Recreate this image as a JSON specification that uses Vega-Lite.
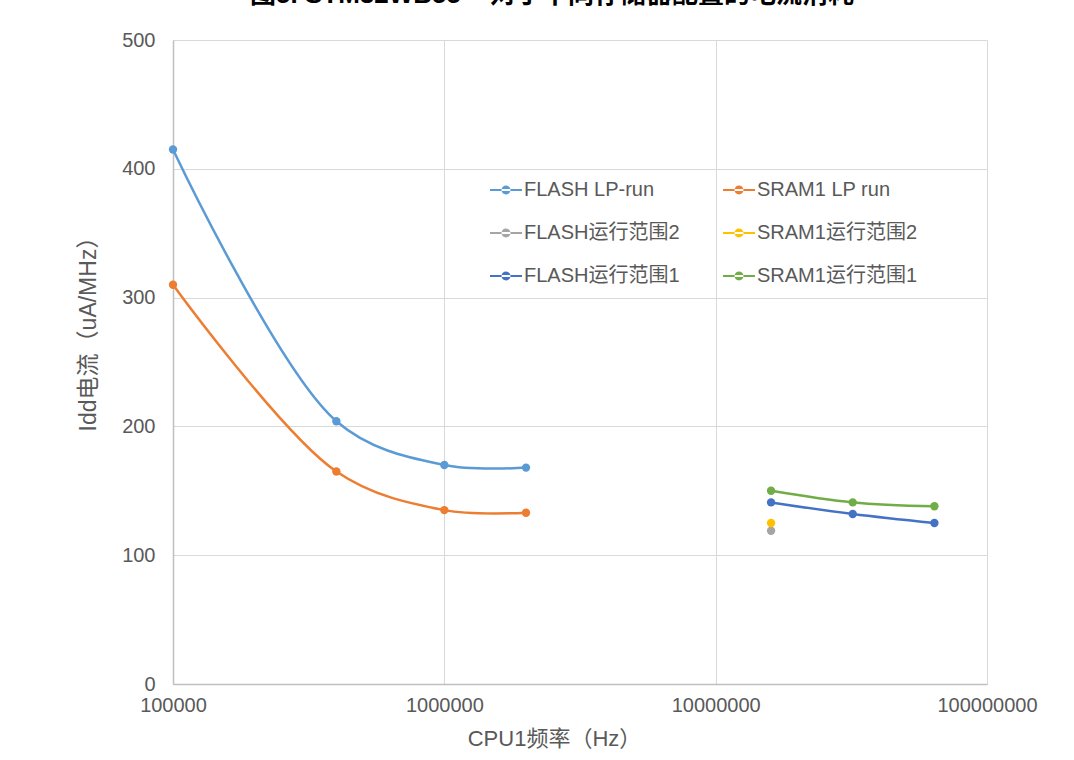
{
  "$schema": "https://vega.github.io/schema/vega-lite/v6.json",
  "width": 814,
  "height": 644,
  "autosize": "none",
  "padding": {"left": 173, "top": 40, "right": 87, "bottom": 76},
  "background": "white",
  "title": {
    "text": "图5. STM32WB55 – 对于不同存储器配置的电流消耗",
    "font": "Liberation Sans, Noto Sans CJK SC",
    "fontSize": 26,
    "fontWeight": "bold",
    "color": "#000000",
    "anchor": "middle",
    "baseline": "alphabetic",
    "offset": 1,
    "dx": -28
  },
  "config": {
    "view": {"stroke": null},
    "font": "Liberation Sans, Noto Sans CJK SC",
    "axis": {
      "labelFont": "Liberation Sans, Noto Sans CJK SC",
      "titleFont": "Liberation Sans, Noto Sans CJK SC",
      "labelFontSize": 20,
      "labelColor": "#595959",
      "titleFontWeight": "normal",
      "titleColor": "#595959",
      "gridColor": "#D9D9D9",
      "gridWidth": 1,
      "domainColor": "#BFBFBF",
      "domainWidth": 1.5,
      "ticks": false
    },
    "legend": {
      "labelFont": "Liberation Sans, Noto Sans CJK SC",
      "labelFontSize": 20,
      "labelColor": "#595959",
      "labelLimit": 300
    }
  },
  "datasets": {
    "series": [
      {"series": "FLASH LP-run", "freq": 100000, "idd": 415},
      {"series": "FLASH LP-run", "freq": 400000, "idd": 204},
      {"series": "FLASH LP-run", "freq": 1000000, "idd": 170},
      {"series": "FLASH LP-run", "freq": 2000000, "idd": 168},
      {"series": "SRAM1 LP run", "freq": 100000, "idd": 310},
      {"series": "SRAM1 LP run", "freq": 400000, "idd": 165},
      {"series": "SRAM1 LP run", "freq": 1000000, "idd": 135},
      {"series": "SRAM1 LP run", "freq": 2000000, "idd": 133},
      {"series": "FLASH运行范围2", "freq": 16000000, "idd": 119},
      {"series": "SRAM1运行范围2", "freq": 16000000, "idd": 125},
      {"series": "FLASH运行范围1", "freq": 16000000, "idd": 141},
      {"series": "FLASH运行范围1", "freq": 32000000, "idd": 132},
      {"series": "FLASH运行范围1", "freq": 64000000, "idd": 125},
      {"series": "SRAM1运行范围1", "freq": 16000000, "idd": 150},
      {"series": "SRAM1运行范围1", "freq": 32000000, "idd": 141},
      {"series": "SRAM1运行范围1", "freq": 64000000, "idd": 138}
    ],
    "minor": [
      {"f": 200000}, {"f": 300000}, {"f": 400000}, {"f": 500000}, {"f": 600000}, {"f": 700000}, {"f": 800000}, {"f": 900000},
      {"f": 2000000}, {"f": 3000000}, {"f": 4000000}, {"f": 5000000}, {"f": 6000000}, {"f": 7000000}, {"f": 8000000}, {"f": 9000000},
      {"f": 20000000}, {"f": 30000000}, {"f": 40000000}, {"f": 50000000}, {"f": 60000000}, {"f": 70000000}, {"f": 80000000}, {"f": 90000000}
    ]
  },
  "encoding": {
    "x": {
      "field": "freq",
      "type": "quantitative",
      "scale": {"type": "log", "domain": [100000, 100000000], "nice": false},
      "axis": {
        "values": [100000, 1000000, 10000000, 100000000],
        "format": "d",
        "labelPadding": 11,
        "labelFlush": false,
        "title": "CPU1频率（Hz）",
        "titleFontSize": 22,
        "titleX": 381,
        "titleY": 44,
        "titleBaseline": "top"
      }
    },
    "y": {
      "field": "idd",
      "type": "quantitative",
      "scale": {"domain": [0, 500], "nice": false},
      "axis": {
        "values": [0, 100, 200, 300, 400, 500],
        "labelPadding": 18,
        "title": "Idd电流（uA/MHz）",
        "titleFontSize": 23,
        "titleX": -85,
        "titleY": 288,
        "titleBaseline": "middle",
        "titleAngle": -90
      }
    }
  },
  "layer": [
    {
      "data": {"name": "minor"},
      "mark": {"type": "rule", "color": "#BFBFBF", "strokeWidth": 1},
      "encoding": {
        "x": {"field": "f", "type": "quantitative"},
        "y": {"datum": 0},
        "y2": {"datum": 3.5}
      }
    },
    {
      "data": {"name": "series"},
      "mark": {"type": "line", "interpolate": "catmull-rom", "strokeWidth": 2.5},
      "encoding": {
        "color": {"field": "series", "type": "nominal",
          "scale": {
            "domain": ["FLASH LP-run", "SRAM1 LP run", "FLASH运行范围2", "SRAM1运行范围2", "FLASH运行范围1", "SRAM1运行范围1"],
            "range": ["#5B9BD5", "#ED7D31", "#A5A5A5", "#FFC000", "#4472C4", "#70AD47"]
          },
          "legend": {
            "orient": "none",
            "legendX": 317,
            "legendY": 134,
            "columns": 2,
            "direction": "horizontal",
            "title": null,
            "columnPadding": 43,
            "rowPadding": 17,
            "labelOffset": 2,
            "symbolType": "M-1,-0.07L1,-0.07L1,0.07L-1,0.07Z M-0.28,0A0.28,0.28 0 1,0 0.28,0A0.28,0.28 0 1,0 -0.28,0Z",
            "symbolSize": 1024,
            "symbolStrokeWidth": 0,
            "symbolOpacity": 1,
            "encode": {"symbols": {"update": {"fill": {"scale": "color", "field": "value"}}}}
          }
        }
      }
    },
    {
      "data": {"name": "series"},
      "mark": {"type": "point", "filled": true, "size": 70, "opacity": 1},
      "encoding": {
        "color": {"field": "series", "type": "nominal",
          "scale": {
            "domain": ["FLASH LP-run", "SRAM1 LP run", "FLASH运行范围2", "SRAM1运行范围2", "FLASH运行范围1", "SRAM1运行范围1"],
            "range": ["#5B9BD5", "#ED7D31", "#A5A5A5", "#FFC000", "#4472C4", "#70AD47"]
          },
          "legend": {
            "orient": "none",
            "legendX": 317,
            "legendY": 134,
            "columns": 2,
            "direction": "horizontal",
            "title": null,
            "columnPadding": 43,
            "rowPadding": 17,
            "labelOffset": 2,
            "symbolType": "M-1,-0.07L1,-0.07L1,0.07L-1,0.07Z M-0.28,0A0.28,0.28 0 1,0 0.28,0A0.28,0.28 0 1,0 -0.28,0Z",
            "symbolSize": 1024,
            "symbolStrokeWidth": 0,
            "symbolOpacity": 1,
            "encode": {"symbols": {"update": {"fill": {"scale": "color", "field": "value"}}}}
          }
        }
      }
    }
  ]
}
